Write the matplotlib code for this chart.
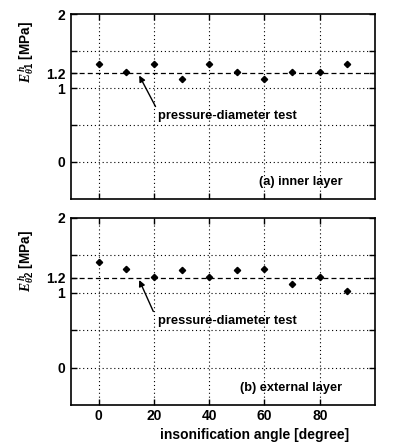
import matplotlib
matplotlib.use("Agg")
import matplotlib.pyplot as plt

angles = [0, 10, 20, 30, 40, 50, 60, 70, 80, 90]
inner_layer = [1.32, 1.22, 1.32, 1.12, 1.32, 1.22, 1.12, 1.22, 1.22, 1.33]
external_layer = [1.41, 1.32, 1.21, 1.31, 1.21, 1.31, 1.32, 1.12, 1.21, 1.02]
pressure_diameter = 1.2
y_tick_values = [0, 1, 1.2, 2]
y_tick_labels = ["0", "1", "1.2", "2"]
x_tick_values = [0, 20, 40, 60, 80]
panel_labels = ["(a) inner layer", "(b) external layer"]
y_labels = [r"$\mathit{E}^{\,h}_{\theta 1}$ [MPa]", r"$\mathit{E}^{\,h}_{\theta 2}$ [MPa]"]
annotation_text = "pressure-diameter test"
x_label = "insonification angle [degree]"

plt.rcParams['font.family'] = ['Liberation Sans', 'DejaVu Sans']
plt.rcParams['font.weight'] = 'bold'
plt.rcParams['mathtext.fontset'] = 'custom'
plt.rcParams['mathtext.rm'] = 'Liberation Sans:bold'
plt.rcParams['mathtext.it'] = 'Liberation Serif:italic'

fig = plt.figure(figsize=(3.94, 4.43), dpi=100)
ax1 = fig.add_axes([0.180, 0.551, 0.772, 0.417])
ax2 = fig.add_axes([0.180, 0.0858, 0.772, 0.4222])

arrow_tails = [(20.6, 0.75), (19.8, 0.75)]
ylabel_pos = [0.795, 0.77]

for i, (ax, data) in enumerate(zip([ax1, ax2], [inner_layer, external_layer])):
    ax.set_xlim(-10, 100)
    ax.set_ylim(-0.5, 2)
    ax.set_yticks(y_tick_values)
    ax.set_yticklabels(y_tick_labels, fontsize=10, fontweight='bold')
    ax.set_yticks([0, 0.5, 1, 1.5], minor=True)
    ax.set_xticks(x_tick_values)
    ax.grid(False)
    for yv in [0, 0.5, 1, 1.5]:
        ax.axhline(yv, color='black', linestyle=(0, (1, 2.5)), linewidth=0.8, zorder=1)
    for xv in x_tick_values:
        ax.axvline(xv, color='black', linestyle=(0, (1, 2.5)), linewidth=0.8, zorder=1)
    ax.axhline(pressure_diameter, color='black', linestyle=(0, (4, 2.5)), linewidth=0.9, zorder=2)
    ax.plot(angles, data, linestyle='none', marker='D', markersize=3.2,
            color='black', zorder=3)
    ax.tick_params(axis='both', which='both', direction='in', top=True, right=True,
                   length=4, width=1, pad=4)
    for sp in ax.spines.values():
        sp.set_linewidth(1.2)
    ax.annotate("", xy=(14.7, 1.17), xytext=arrow_tails[i],
                arrowprops=dict(arrowstyle='-|>', color='black', lw=1.0,
                                mutation_scale=9, shrinkA=0, shrinkB=0))
    ax.text(21.5, 0.62, annotation_text, fontsize=9.3, fontweight='bold',
            ha='left', va='center')
    ax.text(88.2, -0.27, panel_labels[i], fontsize=9.2, fontweight='bold',
            ha='right', va='center')
    ax.text(-0.147, ylabel_pos[i], y_labels[i], transform=ax.transAxes, rotation=90,
            fontsize=9.8, fontweight='bold', ha='center', va='center')

ax1.tick_params(axis='x', labelbottom=False)
ax2.set_xticklabels([str(v) for v in x_tick_values], fontsize=10, fontweight='bold')
ax2.tick_params(axis='x', pad=3)
ax2.set_xlabel(x_label, fontsize=10, fontweight='bold')
ax2.xaxis.set_label_coords(0.605, -0.125)

fig.savefig("out.png", dpi=100)
